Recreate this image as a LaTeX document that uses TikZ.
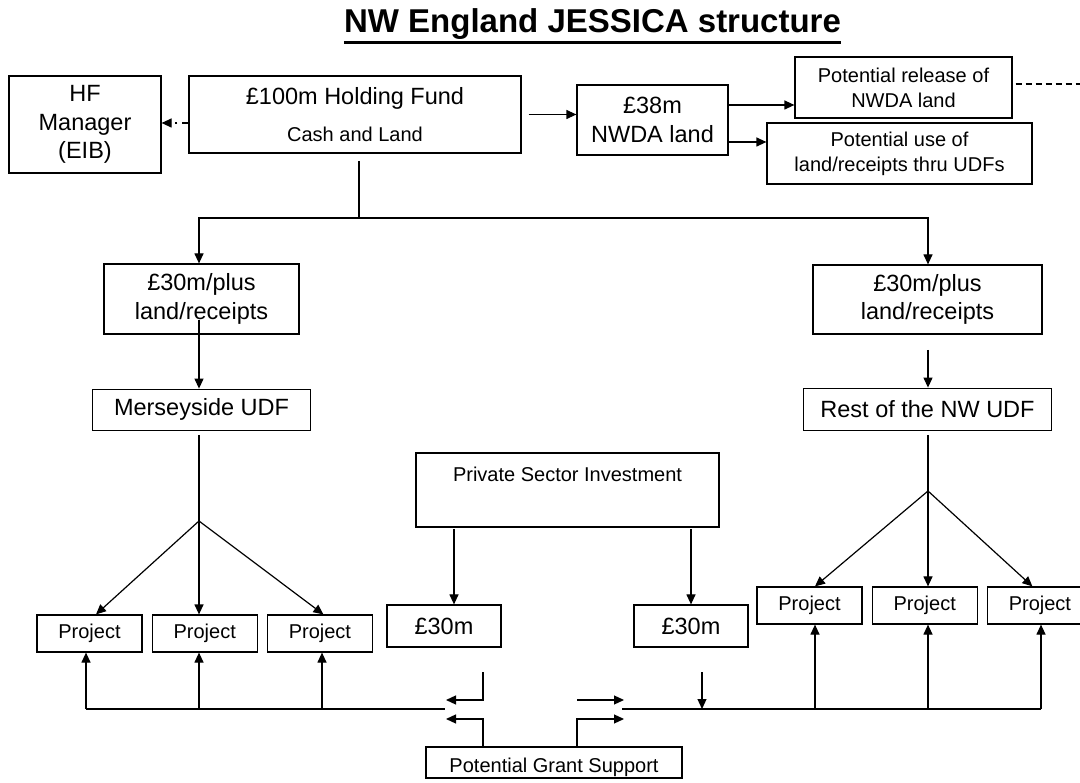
\documentclass[tikz,border=0pt]{standalone}
\usepackage{fontspec}
\setmainfont{Liberation Sans}
\usetikzlibrary{arrows.meta, positioning}

\newcommand{\bigtxt}{\fontsize{23.5}{28.5}\selectfont}
\newcommand{\smalltxt}{\fontsize{20}{25}\selectfont}
\newcommand{\titletxt}{\fontsize{33}{39}\selectfont\bfseries}

\begin{document}
\begin{tikzpicture}[x=1pt, y=-1pt,
    box/.style={rectangle, draw, line width=1.2pt, inner sep=0pt, align=center, font=\bigtxt},
    smallbox/.style={box, font=\smalltxt},
    project/.style={smallbox, minimum width=105pt, minimum height=37pt},
    line/.style={draw, line width=1.2pt, -{Triangle[length=10pt, width=9pt]}},
    plain/.style={draw, line width=1.2pt}]

    \useasboundingbox[fill=white] (0,0) rectangle (1080,783);

    % title
    \node [font=\titletxt, inner sep=0pt, anchor=base] (title) at (592.5,33) {NW England JESSICA structure};
    \draw [line width=3pt] ([yshift=-9.5pt]title.base west) -- ([yshift=-9.5pt]title.base east);

    % top row
    \node [box, minimum width=152pt, minimum height=97pt] (hfman) at (85,124.5) {HF\\Manager\\(EIB)};
    \node [box, minimum width=332pt, minimum height=77pt] (hfund) at (355,114.5) {£100m Holding Fund\\[8.5pt]{\smalltxt Cash and Land}};
    \node [box, minimum width=151pt, minimum height=70pt] (nwda) at (652.5,120) {£38m\\NWDA land};
    \node [smallbox, minimum width=217pt, minimum height=61pt] (release) at (903.5,87.5) {Potential release of\\NWDA land};
    \node [smallbox, minimum width=265pt, minimum height=61pt] (reuse) at (899.5,153.5) {Potential use of\\land/receipts thru UDFs};

    % UDF columns
    \node [box, minimum width=195pt, minimum height=70pt] (fundL) at (201.5,299) {£30m/plus\\land/receipts};
    \node [box, minimum width=229pt, minimum height=69pt] (fundR) at (927.5,299.5) {£30m/plus\\land/receipts};
    \node [box, minimum width=218pt, minimum height=41pt, below=54pt of fundL] (mersey) {Merseyside UDF};
    \node [box, minimum width=248pt, minimum height=42pt, below=53pt of fundR] (restnw) {Rest of the NW UDF};

    % private sector and projects
    \node [smallbox, minimum width=303pt, text height=29pt, text depth=45pt] (private) at (567.5,490) {Private Sector Investment};
    \node [box, minimum width=114pt, minimum height=42pt] (capL) at (444,626) {£30m};
    \node [box, minimum width=114pt, minimum height=42pt] (capR) at (691,626) {£30m};
    \node [project] (proj1) at (89.5,633.5) {Project};
    \node [project, right=9pt of proj1] (proj2) {Project};
    \node [project, right=9pt of proj2] (proj3) {Project};
    \node [project] (proj4) at (809.5,605.5) {Project};
    \node [project, right=9pt of proj4] (proj5) {Project};
    \node [project, right=9pt of proj5] (proj6) {Project};
    \node [smallbox, minimum width=256pt, text height=25pt, text depth=6pt] (grant) at (554,762.5) {Potential Grant Support};

    % free ends of the connectors
    \coordinate (hfdot) at ([yshift=-8.5pt]hfund.west);
    \coordinate (hfout) at ([xshift=7pt]hfund.east);
    \coordinate (nwdaup) at ([yshift=15pt]nwda.east);
    \coordinate (nwdadown) at ([yshift=-22pt]nwda.east);
    \coordinate (dashend) at (1080,84);
    \coordinate (hfoot) at (359,161);
    \coordinate (hsplit) at (359,218);
    \coordinate (lthru) at (199,320);
    \coordinate (rthru) at (928,350);
    \coordinate (lfoot) at (199,435);
    \coordinate (rfoot) at (928,435);
    \coordinate (lsplit) at (199,521);
    \coordinate (rsplit) at (928,491);
    \coordinate (pleft) at (454,529);
    \coordinate (pright) at (691,529);
    \coordinate (capLfoot) at (483,672);
    \coordinate (capRfoot) at (702,672);
    \coordinate (lbusend) at (445,709);
    \coordinate (rbusend) at (622,709);
    \coordinate (ltipup) at (446,700);
    \coordinate (ltiplow) at (446,719);
    \coordinate (rtail) at (577,700);
    \coordinate (rtipup) at (624,700);
    \coordinate (rtiplow) at (624,719);

    \path [line, dash pattern=on 6pt off 5pt on 2pt off 20pt] (hfdot) -- (hfdot -| hfman.east);
    \path [line] (hfout) -- (hfout -| nwda.west);
    \path [line] (nwdaup) -- (nwdaup -| release.west);
    \path [line] (nwdadown) -- (nwdadown -| reuse.west);
    \path [plain, dash pattern=on 6pt off 4pt] ([xshift=3pt, yshift=3.5pt]release.east) -- (dashend);
    \path [plain] (hfoot) -- (hsplit);
    \path [line] (hsplit) -| (lsplit |- fundL.north);
    \path [line] (hsplit) -| (rsplit |- fundR.north);
    \path [line] (lthru) -- (lthru |- mersey.north);
    \path [line] (rthru) -- (rthru |- restnw.north);
    \path [plain] (lfoot) -- (lsplit);
    \path [plain] (rfoot) -- (rsplit);
    \path [line] (lsplit) -- ([xshift=6.5pt]proj1.north);
    \path [line] (lsplit) -- (lsplit |- proj2.north);
    \path [line] (lsplit) -- ([xshift=3.5pt]proj3.north);
    \path [line] (rsplit) -- ([xshift=5.5pt]proj4.north);
    \path [line] (rsplit) -- (rsplit |- proj5.north);
    \path [line] (rsplit) -- ([xshift=-7.5pt]proj6.north);
    \path [line] (pleft) -- (pleft |- capL.north);
    \path [line] (pright) -- (capR.north);

    % grant support bus
    \foreach \x/\p [count=\i] in {86/proj1, 199/proj2, 322/proj3, 815/proj4, 928/proj5, 1041/proj6} {
        \coordinate (bus\i) at (\x,709);
        \path [line] (bus\i) -- (bus\i |- \p.south);
    }
    \path [plain] (bus1) -- (lbusend);
    \path [plain] (rbusend) -- (bus6);
    \path [line] (capRfoot) -- (capRfoot |- rbusend);
    \path [line] (capLfoot) |- (ltipup);
    \path [line] (grant.north -| capLfoot) |- (ltiplow);
    \path [line] (rtail) -- (rtipup);
    \path [line] (grant.north -| rtail) |- (rtiplow);
\end{tikzpicture}
\end{document}
